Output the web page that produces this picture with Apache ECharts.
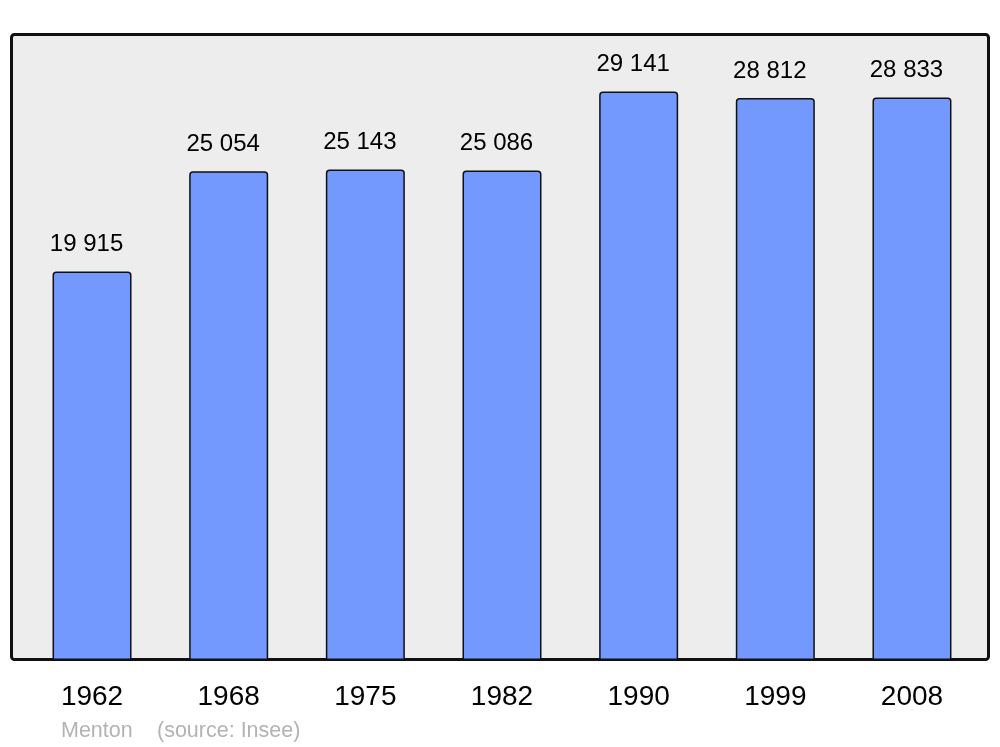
<!DOCTYPE html>
<html><head><meta charset="utf-8">
<script src="https://cdn.jsdelivr.net/npm/echarts@6/dist/echarts.min.js"></script>
<style>html,body{margin:0;padding:0;background:#fff}#c{width:1000px;height:747px}</style>
</head><body><div id="c"></div>
<script>
const categories = ['1962','1968','1975','1982','1990','1999','2008'];
const population = [19915, 25054, 25143, 25086, 29141, 28812, 28833];
const labels = ['19 915','25 054','25 143','25 086','29 141','28 812','28 833'];
const font = '"Liberation Sans", Arial, sans-serif';
const chart = echarts.init(document.getElementById('c'), null, {renderer:'canvas'});
chart.setOption({
  animation: false,
  backgroundColor: '#ffffff',
  graphic: [
    {type:'rect', z:-10, shape:{x:11.5, y:34.5, width:977, height:625, r:3},
     style:{fill:'#ededed', stroke:'#111111', lineWidth:3}},
    {type:'text', left:61, top:720, style:{text:'Menton', fill:'#b3b3b3', font:'21.5px ' + font}},
    {type:'text', left:157, top:720, style:{text:'(source: Insee)', fill:'#b3b3b3', font:'21.5px ' + font}}
  ],
  grid: {left:23.7, right:19.7, top:34, bottom:87, containLabel:false},
  xAxis: {
    type:'category', data: categories,
    axisLine:{show:false}, axisTick:{show:false},
    axisLabel:{color:'#000', fontSize:28, fontFamily:font, margin:23}
  },
  yAxis: {type:'value', min:0, max:32086, show:false, splitLine:{show:false}},
  series: [{
    type:'bar', data: population, barWidth:79,
    itemStyle:{color:'#7399ff', borderColor:'#111111', borderWidth:1.5, borderRadius:[3,3,0,0]},
    label:{show:true, position:'top', distance:15, offset:[-5.5,0], color:'#000', fontSize:24, fontFamily:font,
      formatter: p => labels[p.dataIndex]}
  }]
});
</script></body></html>
